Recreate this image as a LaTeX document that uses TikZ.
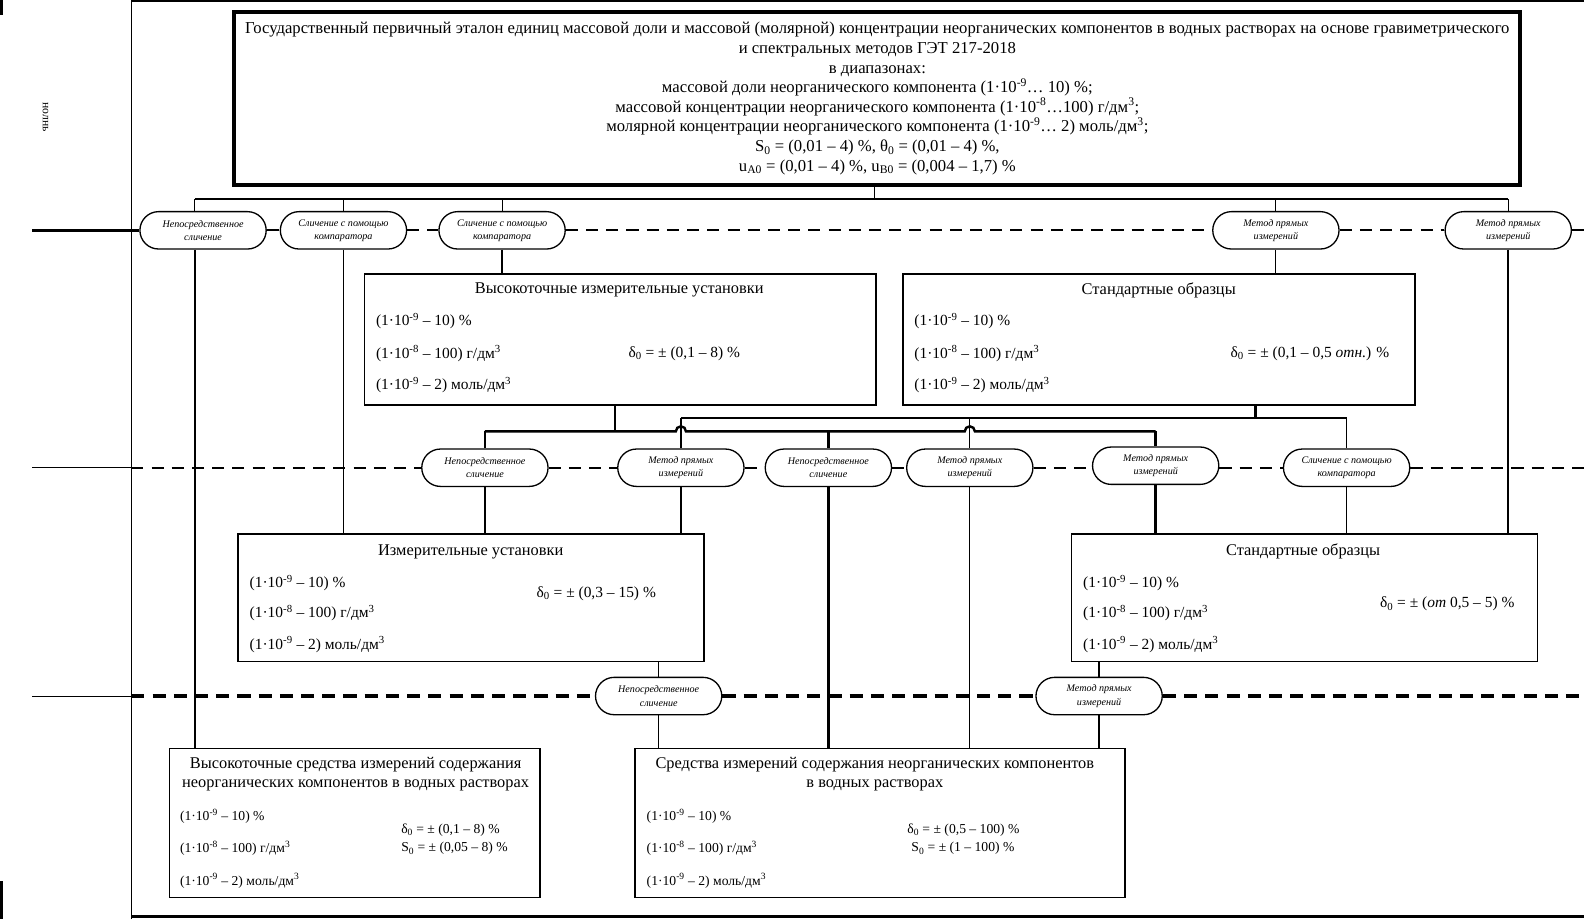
\documentclass[tikz,border=0pt]{standalone}
\usepackage{fontspec}
\setmainfont{Liberation Serif}
\usetikzlibrary{shapes.misc}
\begin{document}
\begin{tikzpicture}[x=1pt,y=-1pt,
 oval/.style={draw, rounded rectangle, line width=1.3pt, minimum width=127pt, minimum height=37pt, inner sep=1pt, align=center, font=\fontsize{10}{13}\selectfont\itshape, fill=white},
 box/.style={draw, line width=1.8pt, anchor=north west, inner sep=0pt},
 thk/.style={line width=2.4pt},
 thn/.style={line width=1pt},
 dsh/.style={line width=2.2pt, dash pattern=on 12pt off 8pt},
 dshb/.style={line width=3.2pt, dash pattern=on 13pt off 8pt},
 dat/.style={anchor=west, inner sep=0pt, font=\fontsize{15.3}{17}\selectfont},
 datb/.style={anchor=west, inner sep=0pt, font=\fontsize{13.5}{15}\selectfont},
 ttl/.style={inner sep=0pt, font=\fontsize{16.2}{19}\selectfont, align=center},
]
\useasboundingbox (0,0) rectangle (1568,910);
\fill[white] (0,0) rectangle (1568,910);

% frame
\draw[line width=1pt] (130,0) -- (130,910);
\draw[line width=2pt] (130,1) -- (1568,1);
\draw[line width=3pt] (130,907) -- (1568,907);
\fill (0,0) rectangle (3,15);
\fill (0,872) rectangle (3,910);
\node[rotate=-90, inner sep=0pt, font=\fontsize{11.5}{12}\selectfont] (mt) at (45,116) {нолнь};

% top box
\node[draw, line width=4pt, minimum width=1273pt, minimum height=171pt, align=center, inner sep=0pt,
  font=\fontsize{16.5}{19.4}\selectfont] (gte) at (868.5,97.5)
 {Государственный первичный эталон единиц массовой доли и массовой (молярной) концентрации неорганических компонентов в водных растворах на основе гравиметрического\\
  и спектральных методов ГЭТ 217-2018\\
  в диапазонах:\\
  массовой доли неорганического компонента (1·10\textsuperscript{-9}… 10) \%;\\
  массовой концентрации неорганического компонента (1·10\textsuperscript{-8}…100) г/дм\textsuperscript{3};\\
  молярной концентрации неорганического компонента (1·10\textsuperscript{-9}… 2) моль/дм\textsuperscript{3};\\
  S\textsubscript{0} = (0,01 – 4) \%, θ\textsubscript{0} = (0,01 – 4) \%,\\
  u\textsubscript{A0} = (0,01 – 4) \%, u\textsubscript{B0} = (0,004 – 1,7) \%};

% boxes
\node[box, minimum width=506pt, minimum height=130pt] (viu) at (360,270) {};
\node[box, minimum width=507pt, minimum height=130pt] (so1) at (893,270) {};
\node[box, line width=1.4pt, minimum width=461pt, minimum height=126pt] (iu) at (235,528) {};
\node[box, line width=1.4pt, minimum width=461pt, minimum height=126pt] (so2) at (1060,528) {};
\node[box, line width=1.4pt, minimum width=367pt, minimum height=148pt] (bl) at (167,740) {};
\node[box, line width=1.4pt, minimum width=485pt, minimum height=148pt] (br) at (628,740) {};

% box texts
\node[ttl] (viut) at (613,287) {Высокоточные измерительные установки};
\node[dat] (viu1) at (372,318) {(1·10\textsuperscript{-9} – 10) \%};
\node[dat] (viu2) at (372,350) {(1·10\textsuperscript{-8} – 100) г/дм\textsuperscript{3}};
\node[dat] (viu3) at (372,381) {(1·10\textsuperscript{-9} – 2) моль/дм\textsuperscript{3}};
\node[dat] (viud) at (622,350) {δ\textsubscript{0} = ± (0,1 – 8) \%};

\node[ttl] (so1t) at (1147,287) {Стандартные образцы};
\node[dat] (so11) at (905,318) {(1·10\textsuperscript{-9} – 10) \%};
\node[dat] (so12) at (905,350) {(1·10\textsuperscript{-8} – 100) г/дм\textsuperscript{3}};
\node[dat] (so13) at (905,381) {(1·10\textsuperscript{-9} – 2) моль/дм\textsuperscript{3}};
\node[dat] (so1d) at (1218,350) {δ\textsubscript{0} = ± (0,1 – 0,5 \textit{отн.}) \%};

\node[ttl] (iut) at (466,546) {Измерительные установки};
\node[dat] (iu1) at (247,577) {(1·10\textsuperscript{-9} – 10) \%};
\node[dat] (iu2) at (247,607) {(1·10\textsuperscript{-8} – 100) г/дм\textsuperscript{3}};
\node[dat] (iu3) at (247,638) {(1·10\textsuperscript{-9} – 2) моль/дм\textsuperscript{3}};
\node[dat] (iud) at (531,588) {δ\textsubscript{0} = ± (0,3 – 15) \%};

\node[ttl] (so2t) at (1290,546) {Стандартные образцы};
\node[dat] (so21) at (1072,577) {(1·10\textsuperscript{-9} – 10) \%};
\node[dat] (so22) at (1072,607) {(1·10\textsuperscript{-8} – 100) г/дм\textsuperscript{3}};
\node[dat] (so23) at (1072,638) {(1·10\textsuperscript{-9} – 2) моль/дм\textsuperscript{3}};
\node[dat] (so2d) at (1366,598) {δ\textsubscript{0} = ± (\textit{от} 0,5 – 5) \%};

\node[ttl] (blt) at (352,766.5) {Высокоточные средства измерений содержания\\неорганических компонентов в водных растворах};
\node[datb] (bl1) at (178,808) {(1·10\textsuperscript{-9} – 10) \%};
\node[datb] (bl2) at (178,840) {(1·10\textsuperscript{-8} – 100) г/дм\textsuperscript{3}};
\node[datb] (bl3) at (178,872) {(1·10\textsuperscript{-9} – 2) моль/дм\textsuperscript{3}};
\node[datb] (bld) at (397,822) {δ\textsubscript{0} = ± (0,1 – 8) \%};
\node[datb] (bls) at (397,840) {S\textsubscript{0} = ± (0,05 – 8) \%};

\node[ttl] (brt) at (866,766.5) {Средства измерений содержания неорганических компонентов\\в водных растворах};
\node[datb] (br1) at (640,808) {(1·10\textsuperscript{-9} – 10) \%};
\node[datb] (br2) at (640,840) {(1·10\textsuperscript{-8} – 100) г/дм\textsuperscript{3}};
\node[datb] (br3) at (640,872) {(1·10\textsuperscript{-9} – 2) моль/дм\textsuperscript{3}};
\node[datb] (brd) at (898,822) {δ\textsubscript{0} = ± (0,5 – 100) \%};
\node[datb] (brs) at (902,840) {S\textsubscript{0} = ± (1 – 100) \%};

% ovals
\node[oval] (o1) at (201,228) {Непосредственное\\сличение};
\node[oval] (o2) at (340,228) {Сличение с помощью\\компаратора};
\node[oval] (o3) at (497,228) {Сличение с помощью\\компаратора};
\node[oval] (o4) at (1263,228) {Метод прямых\\измерений};
\node[oval] (o5) at (1493,228) {Метод прямых\\измерений};

\node[oval] (p1) at (480,463) {Непосредственное\\сличение};
\node[oval] (p2) at (674,463) {Метод прямых\\измерений};
\node[oval] (p3) at (820,463) {Непосредственное\\сличение};
\node[oval] (p4) at (960,463) {Метод прямых\\измерений};
\node[oval] (p5) at (1144,461) {Метод прямых\\измерений};
\node[oval] (p6) at (1333,463) {Сличение с помощью\\компаратора};

\node[oval] (q1) at (652,689) {Непосредственное\\сличение};
\node[oval] (q2) at (1088,689) {Метод прямых\\измерений};

% level lines
\coordinate (L1) at (32,228); \coordinate (R1) at (1568,228);
\draw[thk] (L1) -- (o1.west);
\draw[dsh] (o1.east) -- (o2.west);
\draw[dsh] (o2.east) -- (o3.west);
\draw[dsh] (o3.east) -- (o4.west);
\draw[dsh] (o4.east) -- (o5.west);
\draw[dsh] (o5.east) -- (R1);

\coordinate (L2) at (32,463); \coordinate (F2) at (130,463); \coordinate (R2) at (1568,463);
\draw[line width=1.5pt] (L2) -- (F2);
\draw[dsh] (F2) -- (p1.west);
\draw[dsh] (p1.east) -- (p2.west);
\draw[dsh] (p2.east) -- (p3.west);
\draw[dsh] (p3.east) -- (p4.west);
\draw[dsh] (p4.east) -- (p5.west |- p4.east);
\draw[dsh] (p5.east |- p6.west) -- (p6.west);
\draw[dsh] (p6.east) -- (R2);

\coordinate (L3) at (32,689); \coordinate (F3) at (130,689); \coordinate (R3) at (1568,689);
\draw[thn] (L3) -- (F3);
\draw[dshb] (F3) -- (q1.west);
\draw[dshb] (q1.east) -- (q2.west);
\draw[dshb] (q2.east) -- (R3);

% top bus
\coordinate (t1) at (866,197);
\coordinate (ta) at (193,197);
\coordinate (tb) at (1493,197);
\draw[thn] (t1 |- gte.south) -- (t1);
\draw[line width=1.3pt] (ta) -- (tb);
\draw[thn] (ta) -- (ta |- o1.north);
\draw[thn] (o2.north |- t1) -- (o2.north);
\draw[thn] (o3.north |- t1) -- (o3.north);
\draw[thn] (o4.north |- t1) -- (o4.north);
\draw[thn] (tb) -- (o5.north);

\draw[thk] (ta |- o1.south) -- (ta |- bl.north);
\draw[thn] (o2.south) -- (o2.south |- iu.north);
\draw[thk] (o3.south) -- (o3.south |- viu.north);
\draw[thn] (o4.south) -- (o4.south |- so1.north);
\draw[thk] (o5.south) -- (o5.south |- so2.north);

% level-2 buses
\coordinate (va) at (609,427);
\coordinate (vb) at (1243,414);
\draw[thk] (va |- viu.south) -- (va);
\draw[thk] (vb |- so1.south) -- (vb);
\draw[thk] (p2.north |- vb) -- (p6.north |- vb);
\draw[thk] (p1.north |- va) -- ([xshift=-5pt]p2.north |- va)
   arc[start angle=180, end angle=0, radius=5pt] -- ([xshift=-5pt]p4.north |- va)
   arc[start angle=180, end angle=0, radius=5pt] -- (p5.north |- va);
\draw[thk] (p1.north |- va) -- (p1.north);
\draw[thk] (p3.north |- va) -- (p3.north);
\draw[thk] (p5.north |- va) -- (p5.north);
\draw[thk] (p2.north |- vb) -- (p2.north);
\draw[thn] (p4.north |- vb) -- (p4.north);
\draw[thn] (p6.north |- vb) -- (p6.north);

\draw[thk] (p1.south) -- (p1.south |- iu.north);
\draw[thk] (p2.south) -- (p2.south |- iu.north);
\draw[thk] (p3.south) -- (p3.south |- br.north);
\draw[thn] (p4.south) -- (p4.south |- br.north);
\draw[thk] (p5.south) -- (p5.south |- so2.north);
\draw[thn] (p6.south) -- (p6.south |- so2.north);

% level-3 links
\draw[thn] (q1.north |- iu.south) -- (q1.north);
\draw[thn] (q1.south) -- (q1.south |- br.north);
\draw[thk] (q2.north |- so2.south) -- (q2.north);
\draw[thk] (q2.south) -- (q2.south |- br.north);
\end{tikzpicture}
\end{document}
